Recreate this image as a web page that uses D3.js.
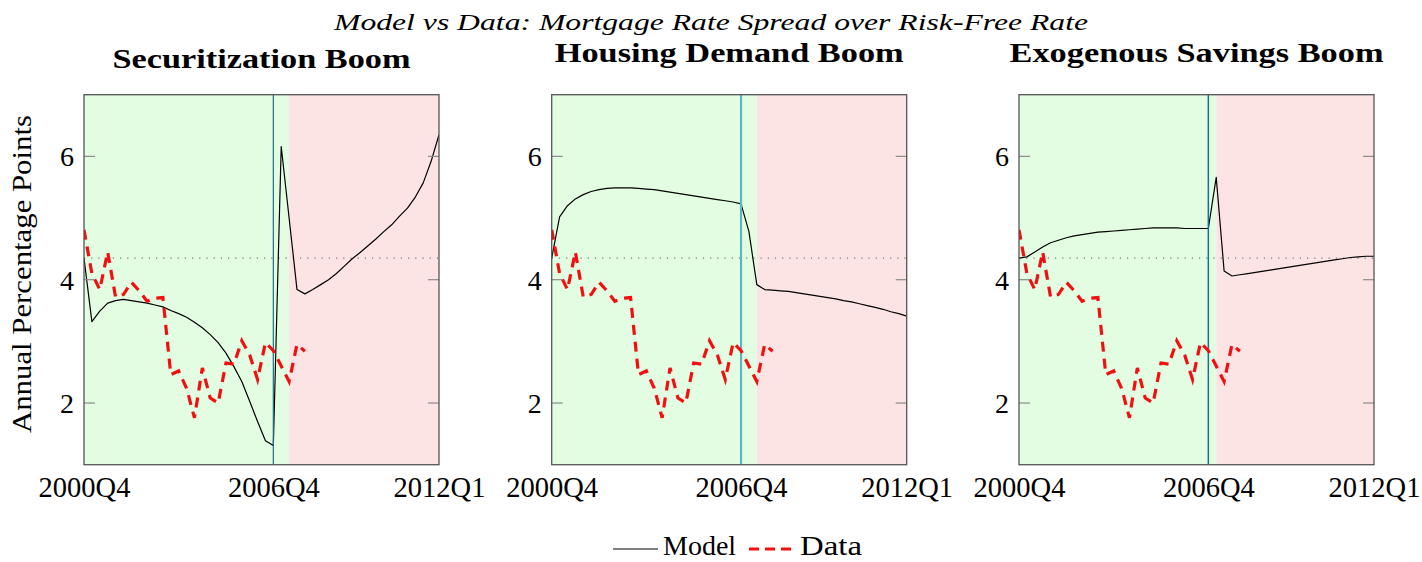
<!DOCTYPE html>
<html>
<head>
<meta charset="utf-8">
<script src="https://cdn.jsdelivr.net/npm/d3@7"></script>
<style>
  html, body { margin: 0; padding: 0; background: #ffffff; }
  svg { display: block; }
</style>
</head>
<body>
<svg id="chart" width="1422" height="562"></svg>
<script>
// Quarterly time axis
const quarters = [
  "2000Q4",
  "2001Q1","2001Q2","2001Q3","2001Q4",
  "2002Q1","2002Q2","2002Q3","2002Q4",
  "2003Q1","2003Q2","2003Q3","2003Q4",
  "2004Q1","2004Q2","2004Q3","2004Q4",
  "2005Q1","2005Q2","2005Q3","2005Q4",
  "2006Q1","2006Q2","2006Q3","2006Q4",
  "2007Q1","2007Q2","2007Q3","2007Q4",
  "2008Q1","2008Q2","2008Q3","2008Q4",
  "2009Q1","2009Q2","2009Q3","2009Q4",
  "2010Q1","2010Q2","2010Q3","2010Q4",
  "2011Q1","2011Q2","2011Q3","2011Q4",
  "2012Q1"
];

// Observed mortgage spread, 2000Q4 - 2007Q4
const dataSpread = [
  4.81, 4.10, 3.84, 4.45, 3.72, 3.76, 3.96, 3.82, 3.65, 3.70,
  3.71, 2.46, 2.52, 2.24, 1.76, 2.57, 2.08, 2.00, 2.65, 2.63,
  3.01, 2.78, 2.38, 2.98, 2.85, 2.60, 2.35, 2.95, 2.84
];

// Model-implied spread, one series per scenario
const modelSecuritization = [
  4.35, 3.32, 3.49, 3.62, 3.66, 3.68, 3.66, 3.64, 3.62, 3.59,
  3.56, 3.50, 3.45, 3.39, 3.31, 3.22, 3.11, 2.98, 2.81, 2.59,
  2.35, 2.03, 1.70, 1.39, 1.31, 6.16, 5.00, 3.84, 3.77, 3.84,
  3.92, 4.00, 4.10, 4.22, 4.34, 4.44, 4.55, 4.66, 4.78, 4.89,
  5.03, 5.16, 5.34, 5.57, 5.92, 6.35
];
const modelHousing = [
  4.35, 5.02, 5.20, 5.31, 5.38, 5.43, 5.46, 5.48, 5.49, 5.49,
  5.49, 5.48, 5.47, 5.46, 5.44, 5.42, 5.40, 5.38, 5.36, 5.34,
  5.32, 5.30, 5.28, 5.26, 5.23, 4.78, 3.92, 3.84, 3.83, 3.82,
  3.81, 3.79, 3.77, 3.75, 3.73, 3.71, 3.69, 3.66, 3.64, 3.61,
  3.58, 3.55, 3.52, 3.48, 3.45, 3.41
];
const modelSavings = [
  4.35, 4.37, 4.45, 4.53, 4.60, 4.64, 4.68, 4.71, 4.73, 4.75,
  4.77, 4.78, 4.79, 4.80, 4.81, 4.82, 4.83, 4.84, 4.84, 4.84,
  4.84, 4.83, 4.83, 4.83, 4.83, 5.66, 4.14, 4.06, 4.08, 4.10,
  4.12, 4.14, 4.16, 4.18, 4.20, 4.22, 4.24, 4.26, 4.28, 4.30,
  4.32, 4.34, 4.36, 4.37, 4.38, 4.38
];

const panelTitles = ["Securitization Boom", "Housing Demand Boom", "Exogenous Savings Boom"];
const boomEnds = ["2007Q2", "2007Q2", "2007Q1"];
const shockQuarter = "2006Q4";
const steadyStateSpread = 4.35;
const xTickLabels = ["2000Q4", "2006Q4", "2012Q1"];
const yTickValues = [2, 4, 6];
const yDomain = [1, 7];

const mainTitle = "Model vs Data: Mortgage Rate Spread over Risk-Free Rate";
const yAxisTitle = "Annual Percentage Points";
const legendLabels = ["Model", "Data"];

// ---- layout ----
const SERIF = "'Liberation Serif', 'Times New Roman', Times, serif";
const svg = d3.select("#chart");
const panelLefts = [84, 551.7, 1019];
const plotW = 355, plotTop = 94.7, plotH = 370;
const titleBaselines = [68, 62, 62];
const titleWidths = [298, 349, 374];
const shockStyles = [
  { color: "#17708f", width: 1.2 },
  { color: "#5db7c3", width: 2.2 },
  { color: "#17708f", width: 1.5 }
];
const modelSeries = [modelSecuritization, modelHousing, modelSavings];

const x = d3.scalePoint().domain(quarters).range([0, plotW]);
const y = d3.scaleLinear().domain(yDomain).range([plotH, 0]);

function serifText(sel) {
  return sel.style("font-family", SERIF).attr("fill", "#000");
}

serifText(svg.append("text"))
  .attr("x", 711).attr("y", 30)
  .attr("text-anchor", "middle")
  .style("font-size", "24px")
  .style("font-style", "italic")
  .attr("textLength", 754).attr("lengthAdjust", "spacingAndGlyphs")
  .text(mainTitle);

serifText(svg.append("text"))
  .attr("transform", "translate(31,274) rotate(-90)")
  .attr("text-anchor", "middle")
  .style("font-size", "27px")
  .attr("textLength", 318).attr("lengthAdjust", "spacingAndGlyphs")
  .text(yAxisTitle);

const defs = svg.append("defs");

panelTitles.forEach((title, i) => {
  const g = svg.append("g").attr("transform", `translate(${panelLefts[i]},${plotTop})`);
  const clipId = "clip" + i;
  defs.append("clipPath").attr("id", clipId)
    .append("rect").attr("width", plotW).attr("height", plotH);

  // boom and bust shading
  g.append("rect")
    .attr("x", 0).attr("y", 0)
    .attr("width", x(boomEnds[i])).attr("height", plotH)
    .attr("fill", "#e3fde3");
  g.append("rect")
    .attr("x", x(boomEnds[i])).attr("y", 0)
    .attr("width", plotW - x(boomEnds[i])).attr("height", plotH)
    .attr("fill", "#fde4e4");

  const body = g.append("g").attr("clip-path", `url(#${clipId})`);

  // steady-state spread reference
  body.append("line")
    .attr("x1", 0).attr("x2", plotW)
    .attr("y1", y(steadyStateSpread)).attr("y2", y(steadyStateSpread))
    .attr("stroke", "#777").attr("stroke-width", 1.2)
    .attr("stroke-dasharray", "1.2,6");

  // model path
  const line = d3.line().x((d, k) => x(quarters[k])).y(d => y(d));
  body.append("path")
    .datum(modelSeries[i])
    .attr("d", line)
    .attr("fill", "none")
    .attr("stroke", "#000")
    .attr("stroke-width", 1.2)
    .attr("stroke-linejoin", "round");

  // shock date marker
  body.append("line")
    .attr("x1", x(shockQuarter)).attr("x2", x(shockQuarter))
    .attr("y1", 0).attr("y2", plotH)
    .attr("stroke", shockStyles[i].color)
    .attr("stroke-width", shockStyles[i].width);

  // observed data
  body.append("path")
    .datum(dataSpread)
    .attr("d", line)
    .attr("fill", "none")
    .attr("stroke", "#f20f0f")
    .attr("stroke-width", 3.2)
    .attr("stroke-dasharray", "10,7");

  // y axis labels, with inner ticks on both sides
  const leftAxis = d3.axisLeft(y).tickValues(yTickValues).tickSize(0).tickPadding(10).tickFormat(d3.format("d"));
  const yg = g.append("g").call(leftAxis);
  yg.select(".domain").remove();
  serifText(yg.selectAll("text"))
    .style("font-size", "28px")
    .attr("dy", "0.34em");
  g.selectAll(".ytick")
    .data(yTickValues).enter()
    .append("g")
    .each(function(v) {
      const s = d3.select(this);
      s.append("line").attr("x1", 0).attr("x2", 11).attr("y1", y(v)).attr("y2", y(v));
      s.append("line").attr("x1", plotW - 11).attr("x2", plotW).attr("y1", y(v)).attr("y2", y(v));
    })
    .selectAll("line").attr("stroke", "#8a8a8a").attr("stroke-width", 1.2);

  // x axis labels
  const bottomAxis = d3.axisBottom(x).tickValues(xTickLabels).tickSize(0).tickPadding(12);
  const xg = g.append("g").attr("transform", `translate(0,${plotH})`).call(bottomAxis);
  xg.select(".domain").remove();
  serifText(xg.selectAll("text"))
    .style("font-size", "28.5px")
    .attr("dy", "0.71em");

  // frame
  g.append("rect")
    .attr("width", plotW).attr("height", plotH)
    .attr("fill", "none")
    .attr("stroke", "#555").attr("stroke-width", 1.3);

  // panel title
  serifText(svg.append("text"))
    .attr("x", panelLefts[i] + plotW / 2).attr("y", titleBaselines[i])
    .attr("text-anchor", "middle")
    .style("font-size", "27px")
    .style("font-weight", "bold")
    .attr("textLength", titleWidths[i]).attr("lengthAdjust", "spacingAndGlyphs")
    .text(title);
});

// legend
const lg = svg.append("g");
lg.append("line").attr("x1", 613).attr("x2", 658).attr("y1", 549).attr("y2", 549)
  .attr("stroke", "#000").attr("stroke-width", 1.2);
serifText(lg.append("text")).attr("x", 663).attr("y", 555)
  .style("font-size", "28px")
  .text(legendLabels[0]);
lg.append("line").attr("x1", 749).attr("x2", 792).attr("y1", 549).attr("y2", 549)
  .attr("stroke", "#f20f0f").attr("stroke-width", 3.2).attr("stroke-dasharray", "10,6");
serifText(lg.append("text")).attr("x", 800).attr("y", 555)
  .style("font-size", "28px")
  .attr("textLength", 62).attr("lengthAdjust", "spacingAndGlyphs")
  .text(legendLabels[1]);
</script>
</body>
</html>
